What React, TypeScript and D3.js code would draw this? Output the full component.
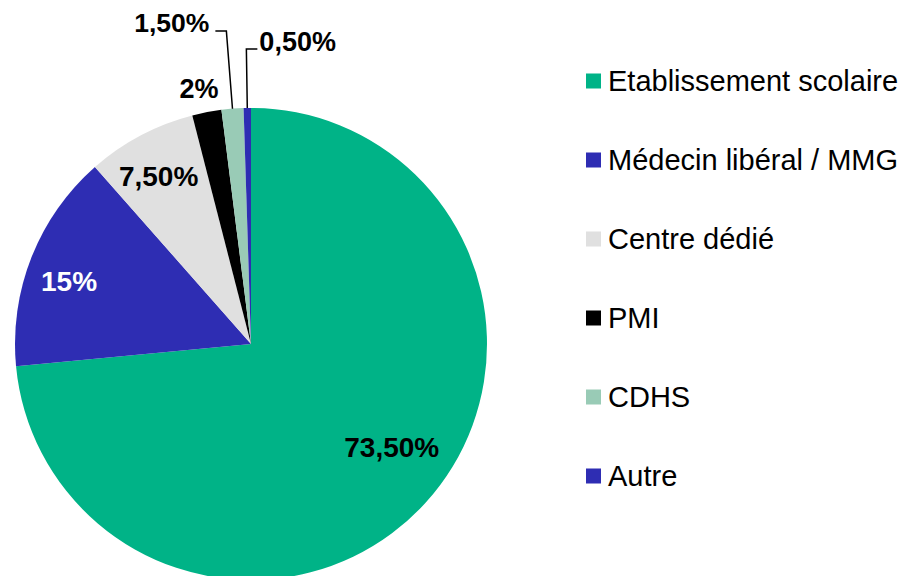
import { useEffect } from 'react'
import * as d3 from 'd3'

const categories = ['Etablissement scolaire', 'Médecin libéral / MMG', 'Centre dédié', 'PMI', 'CDHS', 'Autre']
const values = [73.5, 15, 7.5, 2, 1.5, 0.5]
const labels = ['73,50%', '15%', '7,50%', '2%', '1,50%', '0,50%']
const colors = ['#00b387', '#2e2db3', '#e0e0e0', '#000000', '#99cbb6', '#2e2db3']
const labelColors = ['#000', '#fff', '#000', '#000', '#000', '#000']

const width = 905
const height = 576
const cx = 251
const cy = 344
const R = 236

// label placement: fraction of radius (null = leader line) and a small angle nudge in degrees
const labelRadius = [0.74, 0.816, 0.81, 1.105, null, null]
const labelNudge = [-6, -2.5, -1, -0.7, 0, 0]
const labelSize = [28, 28, 28, 27, 26.5, 27]
const leaderRadius = [0, 0, 0, 0, 1.33, 1.25]
const leaderSide = [0, 0, 0, 0, -1, 1]

export default function App() {
  useEffect(() => {
    document.body.style.margin = '0'
  }, [])

  const pie = d3.pie<number>().sort(null).value(d => d)
  const arcs = pie(values)
  const arc = d3.arc<d3.PieArcDatum<number>>().innerRadius(0).outerRadius(R)

  const polar = (a: number, r: number) => [Math.sin(a) * r, -Math.cos(a) * r]

  const legendY = d3.scalePoint<string>().domain(categories).range([81, 476])

  return (
    <svg width={width} height={height} style={{ display: 'block' }} fontFamily="Arial, 'Liberation Sans', sans-serif">
      <g transform={`translate(${cx},${cy})`}>
        {arcs.map((a, i) => (
          <path key={i} d={arc(a) || ''} fill={colors[i]} />
        ))}
        {arcs.map((a, i) => {
          const mid = (a.startAngle + a.endAngle) / 2
          const lr = labelRadius[i]
          if (lr != null) {
            const [x, y] = polar(mid + (labelNudge[i] * Math.PI) / 180, R * lr)
            return (
              <text key={i} x={x} y={y} dy="0.35em" textAnchor="middle" fontWeight="bold" fontSize={labelSize[i]} fill={labelColors[i]}>
                {labels[i]}
              </text>
            )
          }
          const [x0, y0] = polar(mid, R)
          const [x1, y1] = polar(mid, R * leaderRadius[i])
          const side = leaderSide[i]
          const x2 = x1 + side * 11
          return (
            <g key={i}>
              <polyline points={`${x0},${y0} ${x1},${y1} ${x2},${y1}`} fill="none" stroke="#000" strokeWidth={1.5} />
              <text x={x2 + (side < 0 ? -6 : 2)} y={y1 - 8} dy="0.35em" textAnchor={side < 0 ? 'end' : 'start'} fontWeight="bold" fontSize={labelSize[i]} fill={labelColors[i]}>
                {labels[i]}
              </text>
            </g>
          )
        })}
      </g>
      <g>
        {categories.map((c, i) => (
          <g key={c} transform={`translate(586,${legendY(c)})`}>
            <rect x={0} y={-7.5} width={15} height={15} fill={colors[i]} />
            <text x={22} y={0} dy="0.35em" fontSize={29} fill="#000">{c}</text>
          </g>
        ))}
      </g>
    </svg>
  )
}
